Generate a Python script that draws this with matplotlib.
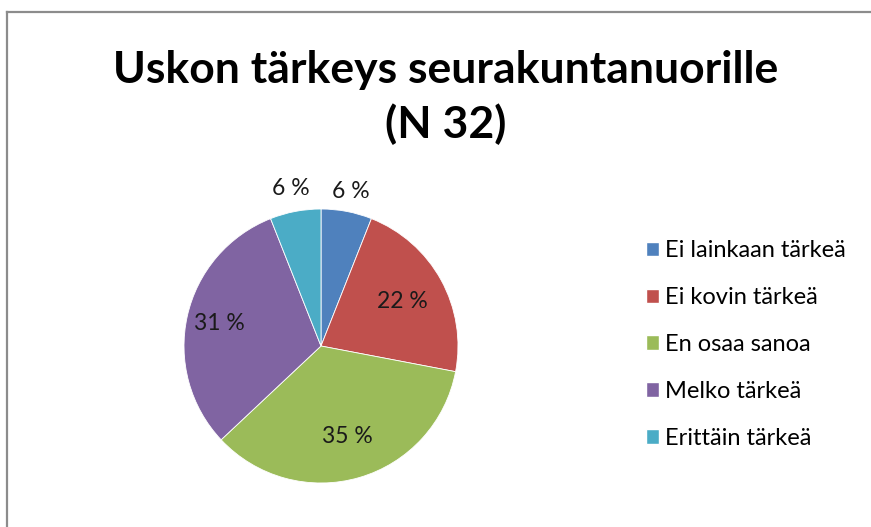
import matplotlib
matplotlib.use("Agg")
import matplotlib.pyplot as plt
from matplotlib.lines import Line2D
from matplotlib.patches import Patch
import numpy as np

plt.rcParams['font.family'] = ['Lato', 'DejaVu Sans']

categories = ["Ei lainkaan tärkeä", "Ei kovin tärkeä", "En osaa sanoa",
              "Melko tärkeä", "Erittäin tärkeä"]
percents = [6, 22, 35, 31, 6]
colors = ["#4F81BD", "#C0504D", "#9BBB59", "#8064A2", "#4BACC6"]
label_dist = [1.15, 0.68, 0.69, 0.76, 1.17]

W, H = 871, 527
fig = plt.figure(figsize=(W / 100, H / 100), dpi=100)

# chart frame (only top and left edges visible)
fig.add_artist(Line2D([7 / W, 7 / W], [0, 1 - 12 / H], color="#8c8c8c", lw=1.6))
fig.add_artist(Line2D([7 / W, 1], [1 - 12 / H, 1 - 12 / H], color="#8c8c8c", lw=1.6))

fig.text(446 / W, 1 - 70 / H, "Uskon tärkeys seurakuntanuorille", ha="center",
         va="center", fontsize=32, fontweight="bold")
fig.text(446 / W, 1 - 124 / H, "(N 32)", ha="center", va="center",
         fontsize=32, fontweight="bold")

cx, cy, r = 321, 527 - 346, 137
ax = fig.add_axes([(cx - r) / W, (cy - r) / H, 2 * r / W, 2 * r / H])
wedges, _ = ax.pie(percents, colors=colors, startangle=90, counterclock=False,
                   radius=1, wedgeprops=dict(edgecolor="white", linewidth=0.6))
ax.set_xlim(-1, 1)
ax.set_ylim(-1, 1)
ax.axis("off")

for w, p, d in zip(wedges, percents, label_dist):
    ang = np.deg2rad((w.theta1 + w.theta2) / 2)
    ax.text(d * np.cos(ang), d * np.sin(ang), f"{p} %",
            ha="center", va="center", fontsize=16.5, color="#1a1a1a")

handles = [Patch(facecolor=col, edgecolor="white") for col in colors]
fig.legend(handles, categories, loc="upper left",
           bbox_to_anchor=(646 / W, 1 - 240 / H), frameon=False,
           fontsize=17, handlelength=0.55, handleheight=0.55, handletextpad=0.25,
           labelspacing=1.1, borderaxespad=0, borderpad=0)

fig.savefig("out.png", dpi=100)
